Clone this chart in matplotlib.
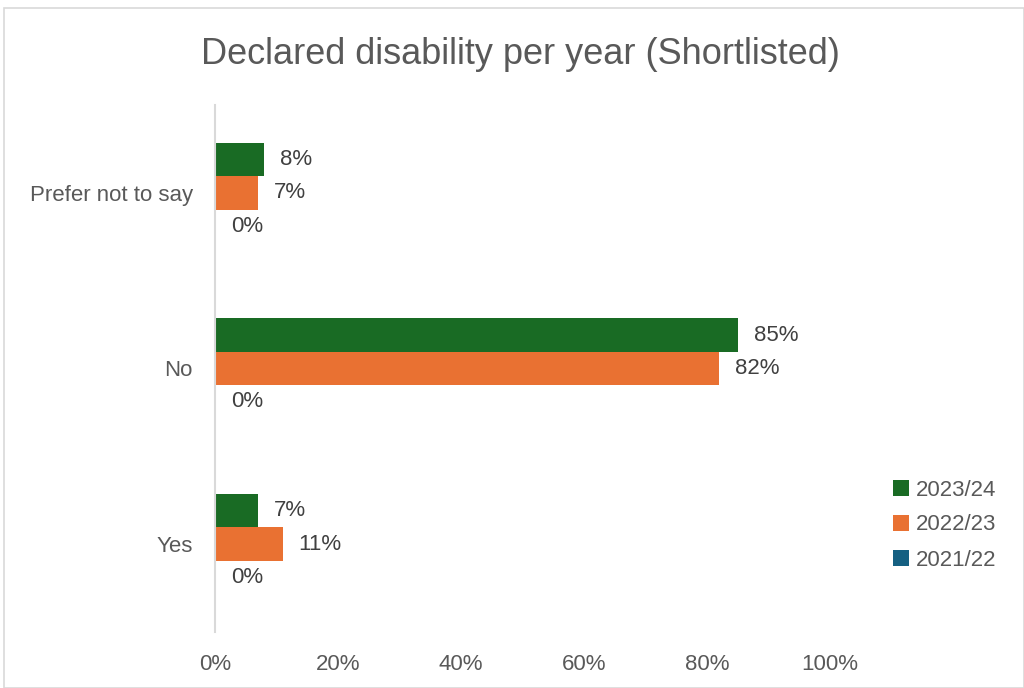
import matplotlib
matplotlib.use("Agg")
import matplotlib.pyplot as plt
from matplotlib.patches import Rectangle
import numpy as np

categories = ["Yes", "No", "Prefer not to say"]
series_names = ["2023/24", "2022/23", "2021/22"]
v_2023_24 = [7, 85, 8]
v_2022_23 = [11, 82, 7]
v_2021_22 = [0, 0, 0]
xticks = [0, 20, 40, 60, 80, 100]

colors = ["#196B24", "#E97132", "#156082"]
text_color = "#595959"
plt.rcParams['font.family'] = ['Liberation Sans', 'DejaVu Sans']

fig = plt.figure(figsize=(10.24, 6.88), dpi=100)
fig.patches.append(Rectangle((4/1024, 0), 1 - 4/1024 - 0.5/1024, 1 - 8/688, transform=fig.transFigure,
                             fill=False, edgecolor="#D9D9D9", linewidth=1.2))
ax = fig.add_axes([215/1024, 1 - 632/688, (830 - 215)/1024, (632 - 105)/688])

y = np.arange(len(categories))
h = 0.19
offsets = [h, 0, -h]
series = [v_2023_24, v_2022_23, v_2021_22]
for vals, off, c, name in zip(series, offsets, colors, series_names):
    bars = ax.barh(y + off, [v / 100 for v in vals], height=h, color=c, label=name)
    for b, v in zip(bars, vals):
        ax.annotate(f"{v}%", (b.get_width(), b.get_y() + b.get_height() / 2),
                    xytext=(11.5, 0), textcoords="offset points", va="center", ha="left",
                    fontsize=16, color="#404040")

ax.set_xlim(0, 1)
ax.set_ylim(-0.5, 2.5)
ax.set_yticks(y)
ax.set_yticklabels(categories, fontsize=16, color=text_color)
ax.set_xticks([t / 100 for t in xticks])
ax.set_xticklabels([f"{t}%" for t in xticks], fontsize=16, color=text_color)
ax.tick_params(axis="both", length=0)
ax.tick_params(axis="y", pad=16)
ax.tick_params(axis="x", pad=16)
for s in ["top", "right", "bottom"]:
    ax.spines[s].set_visible(False)
ax.spines["left"].set_color("#D9D9D9")
ax.spines["left"].set_linewidth(1.5)

fig.text(520/1024, 1 - 54/688, "Declared disability per year (Shortlisted)", ha="center", va="center",
         fontsize=26, color=text_color)

leg = fig.legend(loc="center left", bbox_to_anchor=(873/1024, 1 - 525/688), frameon=False,
                 fontsize=16, labelcolor=text_color, handlelength=0.7, handleheight=0.7,
                 handletextpad=0.35, labelspacing=0.63)

fig.savefig("out.png", dpi=100)
